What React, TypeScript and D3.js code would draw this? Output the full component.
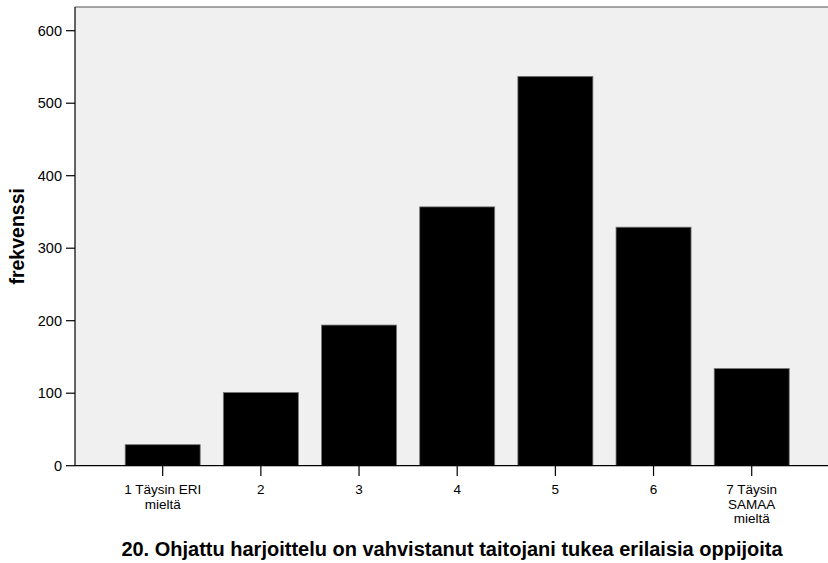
import React from "react";
import * as d3 from "d3";

const categories = ["1", "2", "3", "4", "5", "6", "7"];
const categoryLabels = [["1 Täysin ERI", "mieltä"], ["2"], ["3"], ["4"], ["5"], ["6"], ["7 Täysin", "SAMAA", "mieltä"]];
const frequencies = [29, 101, 194, 357, 537, 329, 134];
const yTicks = [0, 100, 200, 300, 400, 500, 600];
const yTitle = "frekvenssi";
const xTitle = "20. Ohjattu harjoittelu on vahvistanut taitojani tukea erilaisia oppijoita";

const W = 828, H = 563;
const plotLeft = 75, plotTop = 7, plotBottom = 465.7, plotRight = 840;

export default function App() {
  const y = d3.scaleLinear().domain([0, 632.7]).range([plotBottom, plotTop]);
  const x = d3.scaleBand<string>().domain(categories).range([113.6, 800.8]).paddingInner(0.236).paddingOuter(0.118);
  const font = "'Liberation Sans', Arial, sans-serif";
  return (
    <div style={{ position: "absolute", left: 0, top: 0 }}>
      <svg width={W} height={H} style={{ display: "block", background: "#fff" }} fontFamily={font}>
        <rect x={plotLeft} y={plotTop} width={plotRight - plotLeft} height={plotBottom - plotTop} fill="#f0f0f0" />
        <line x1={plotLeft} x2={plotRight} y1={plotTop} y2={plotTop} stroke="#555" strokeWidth={1.2} />
        {frequencies.map((v, i) => (
          <rect key={i} x={x(categories[i])} y={y(v)} width={x.bandwidth()} height={y(0) - y(v)} fill="#000" stroke="#777" strokeWidth={0.8} />
        ))}
        <line x1={plotLeft} x2={plotLeft} y1={plotTop} y2={plotBottom} stroke="#000" strokeWidth={1.2} />
        <line x1={plotLeft} x2={plotRight} y1={plotBottom} y2={plotBottom} stroke="#000" strokeWidth={1.2} />
        {yTicks.map((t) => (
          <g key={t}>
            <line x1={66} x2={plotLeft} y1={y(t)} y2={y(t)} stroke="#000" strokeWidth={1.2} />
            <text x={62} y={y(t)} dy="0.35em" textAnchor="end" fontSize={14.5} fill="#000">{t}</text>
          </g>
        ))}
        {categories.map((c, i) => {
          const cx = (x(c) as number) + x.bandwidth() / 2;
          return (
            <g key={c}>
              <line x1={cx} x2={cx} y1={plotBottom} y2={476} stroke="#000" strokeWidth={1.2} />
              {categoryLabels[i].map((s, j) => (
                <text key={j} x={cx} y={494 + j * 14.5} textAnchor="middle" fontSize={13.5} fill="#000">{s}</text>
              ))}
            </g>
          );
        })}
        <text transform={`translate(24,${(plotTop + plotBottom) / 2}) rotate(-90)`} textAnchor="middle" fontSize={19.5} fontWeight="bold" fill="#000">{yTitle}</text>
        <text x={452} y={556} textAnchor="middle" fontSize={20} fontWeight="bold" fill="#000">{xTitle}</text>
      </svg>
    </div>
  );
}
